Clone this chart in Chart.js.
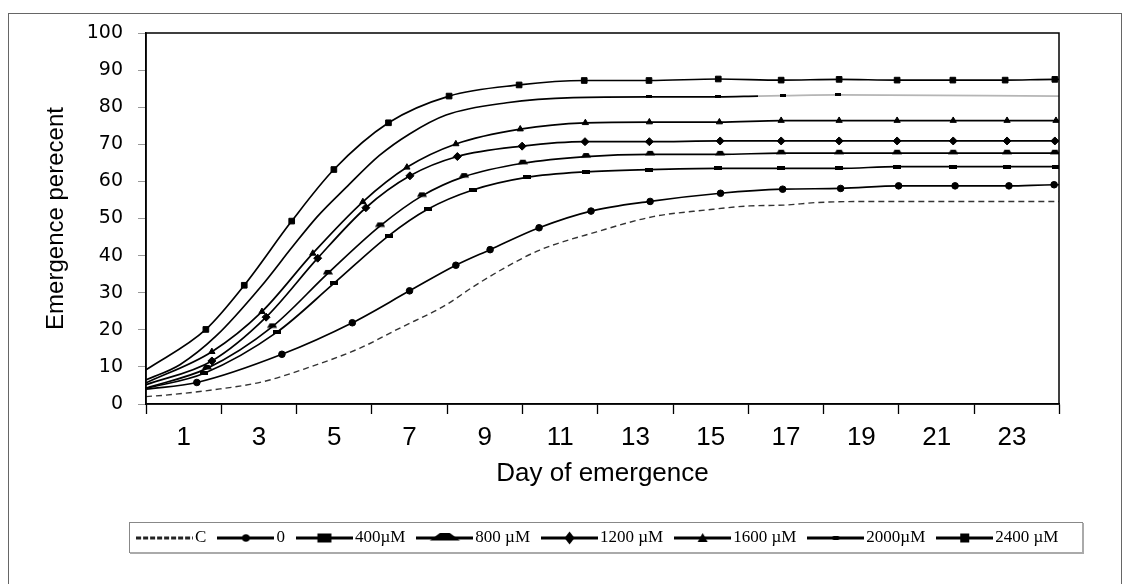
<!DOCTYPE html>
<html>
<head>
<meta charset="utf-8">
<script src="https://cdn.jsdelivr.net/npm/chart.js@4.4.1/dist/chart.umd.min.js"></script>
<style>
    html, body { margin: 0; padding: 0; background: #fff; }
    #wrap { width: 1130px; height: 584px; }
</style>
</head>
<body>
<div id="wrap"><canvas id="emergenceChart" width="1130" height="584"></canvas></div>
<script>
/* ================= DATA ================= */

const seriesNames = ["C", "0", "400µM", "800 µM", "1200 µM", "1600 µM", "2000µM", "2400 µM"];

const dayC = [0, 0.53, 1.77, 3.10, 4.25, 5.67, 6.73, 7.97, 8.69, 9.58, 10.46, 11.97, 13.47, 14.89, 16.04, 16.93, 17.81, 19.32, 24.25];
const pctC = [2.0, 2.4, 3.8, 6.0, 9.6, 15.0, 20.4, 26.7, 31.6, 37.0, 41.5, 46.4, 50.5, 52.3, 53.4, 53.6, 54.3, 54.6, 54.6];

const day0 = [0, 1.35, 3.61, 5.48, 7.00, 8.23, 9.14, 10.44, 11.82, 13.39, 15.26, 16.91, 18.45, 19.99, 21.49, 22.92, 24.12, 24.25];
const pct0 = [4.0, 5.8, 13.4, 21.9, 30.5, 37.4, 41.6, 47.5, 52.0, 54.6, 56.8, 57.9, 58.1, 58.8, 58.8, 58.8, 59.1, 59.1];

const day400 = [0, 1.55, 3.47, 4.99, 6.45, 7.48, 8.68, 10.11, 11.69, 13.36, 15.20, 16.87, 18.41, 19.95, 21.44, 22.87, 24.17, 24.25];
const pct400 = [4.2, 8.3, 19.3, 32.5, 45.4, 52.5, 57.7, 61.1, 62.6, 63.2, 63.5, 63.5, 63.5, 64.0, 64.0, 64.0, 64.0, 64.0];

const day800 = [0, 1.62, 3.35, 4.83, 6.22, 7.33, 8.45, 10.01, 11.69, 13.39, 15.25, 16.87, 18.41, 19.95, 21.44, 22.87, 24.14, 24.25];
const pct800 = [4.3, 9.6, 20.8, 35.2, 48.0, 56.1, 61.3, 64.9, 66.7, 67.3, 67.3, 67.6, 67.6, 67.6, 67.6, 67.6, 67.6, 67.6];

const day1200 = [0, 1.75, 3.19, 4.56, 5.84, 7.01, 8.27, 9.99, 11.66, 13.37, 15.25, 16.87, 18.41, 19.95, 21.44, 22.87, 24.14, 24.25];
const pct1200 = [5.2, 11.6, 23.4, 39.3, 52.9, 61.5, 66.7, 69.5, 70.7, 70.7, 70.9, 70.9, 70.9, 70.9, 70.9, 70.9, 70.9, 70.9];

const day1600 = [0, 1.75, 3.08, 4.43, 5.76, 6.93, 8.23, 9.94, 11.67, 13.37, 15.23, 16.87, 18.41, 19.95, 21.44, 22.87, 24.17, 24.25];
const pct1600 = [5.7, 14.1, 24.9, 40.6, 54.5, 63.8, 70.1, 74.1, 75.8, 76.0, 76.0, 76.4, 76.4, 76.4, 76.4, 76.4, 76.4, 76.4];

const day2000 = [0, 0.9, 1.87, 3.05, 3.9, 4.55, 5.31, 6.2, 7.0, 7.97, 9.58, 11.35, 13.36, 15.2, 16.26, 16.91, 18.39, 24.25];
const pct2000 = [6.5, 10.6, 18.4, 31.6, 42.5, 50.5, 58.3, 67.0, 72.8, 77.9, 81.2, 82.6, 82.8, 82.8, 83.0, 83.1, 83.3, 83.0];
const mark2000 = [13.36, 15.2, 16.91, 18.39];

const day2400 = [0, 1.59, 2.61, 3.87, 4.99, 6.44, 8.05, 9.91, 11.64, 13.36, 15.20, 16.87, 18.41, 19.95, 21.43, 22.82, 24.14, 24.25];
const pct2400 = [9.2, 20.1, 32.0, 49.3, 63.2, 75.8, 83.0, 86.0, 87.2, 87.2, 87.6, 87.3, 87.5, 87.3, 87.3, 87.3, 87.5, 87.5];

const xMax = 24.25;

/* ================= MARKERS ================= */

function makeCanvas(w, h, draw) {
    const c = document.createElement("canvas");
    c.width = w;
    c.height = h;
    const g = c.getContext("2d");
    g.fillStyle = "#000";
    g.strokeStyle = "#000";
    draw(g, w, h);
    return c;
}

const rect400 = makeCanvas(8, 4, g => g.fillRect(0, 0, 8, 4));
const hat800 = makeCanvas(10, 9, g => {
    g.beginPath();
    g.moveTo(0, 5.5); g.lineTo(2.5, 1); g.lineTo(7.5, 1); g.lineTo(10, 5.5);
    g.closePath(); g.fill();
});
const dash2000 = makeCanvas(6, 3, g => g.fillRect(0, 0, 6, 3));

function legendIcon(mark, dashed) {
    return makeCanvas(57, 16, (g, w) => {
        const cx = w / 2, cy = 8;
        g.lineWidth = 3;
        if (dashed) g.setLineDash([5, 2]);
        g.strokeStyle = dashed ? "#222" : "#000";
        g.beginPath(); g.moveTo(0, cy); g.lineTo(w, cy); g.stroke();
        g.setLineDash([]);
        if (mark) { g.beginPath(); mark(g, cx, cy); g.fill(); }
    });
}

const legendIcons = [
    legendIcon(null, true),
    legendIcon((g, x, y) => g.arc(x, y, 3.8, 0, Math.PI * 2)),
    legendIcon((g, x, y) => g.rect(x - 7, y - 4.5, 14, 9)),
    legendIcon((g, x, y) => { g.moveTo(x - 15, y + 2.5); g.lineTo(x - 5, y - 5); g.lineTo(x + 5, y - 5); g.lineTo(x + 15, y + 2.5); }),
    legendIcon((g, x, y) => { g.moveTo(x, y - 6.5); g.lineTo(x + 5, y); g.lineTo(x, y + 6.5); g.lineTo(x - 5, y); }),
    legendIcon((g, x, y) => { g.moveTo(x, y - 5); g.lineTo(x + 5, y + 4); g.lineTo(x - 5, y + 4); }),
    legendIcon((g, x, y) => g.rect(x - 3, y - 2, 6, 4)),
    legendIcon((g, x, y) => g.rect(x - 4.5, y - 4.5, 9, 9))
];

/* ================= DATASETS ================= */

const allDays = [dayC, day0, day400, day800, day1200, day1600, day2000, day2400];
const allPcts = [pctC, pct0, pct400, pct800, pct1200, pct1600, pct2000, pct2400];
const markStyles = [false, "circle", rect400, hat800, "rectRot", "triangle", dash2000, "rect"];
const markSizes = [0, 3.3, 3, 3, 4, 3.6, 3, 4];

function hasMark(i, j) {
    if (!markStyles[i]) return false;
    if (i === 6) return mark2000.includes(allDays[i][j]);
    return j > 0 && j < allDays[i].length - 1;
}

const datasets = seriesNames.map((name, i) => ({
    label: name,
    data: allDays[i].map((d, j) => ({ x: d, y: allPcts[i][j] })),
    borderColor: i === 0 ? "#333" : "#000",
    borderWidth: i === 0 ? 1.4 : 1.7,
    borderDash: i === 0 ? [6, 4] : [],
    cubicInterpolationMode: "monotone",
    pointStyle: markStyles[i] || "circle",
    pointRadius: allDays[i].map((d, j) => hasMark(i, j) ? markSizes[i] : 0),
    pointBackgroundColor: "#000",
    pointBorderColor: "#000",
    pointBorderWidth: 1,
    segment: i === 6 ? { borderColor: c => c.p0.parsed.x >= 16.2 ? "#b5b5b5" : "#000" } : undefined,
    fill: false
}));

/* ================= FRAME PLUGIN ================= */

// legend row sits a little right of the canvas centre
const legendShift = 71;

const framePlugin = {
    id: "frame",
    afterLayout(chart) {
        chart.legend.left += legendShift;
        chart.legend.right += legendShift;
    },
    beforeDraw(chart) {
        const ctx = chart.ctx;
        ctx.save();
        ctx.fillStyle = "#fff";
        ctx.fillRect(0, 0, chart.width, chart.height);
        ctx.strokeStyle = "#666";
        ctx.lineWidth = 1;
        ctx.strokeRect(8.5, 13.5, 1113, 620);
        ctx.restore();
    },
    afterDraw(chart) {
        const ctx = chart.ctx;
        const a = chart.chartArea;
        ctx.save();
        ctx.strokeStyle = "#000";
        ctx.lineWidth = 1.5;
        ctx.strokeRect(a.left, a.top, a.right - a.left, a.bottom - a.top);

        const lg = chart.legend;
        const lab = lg.options.labels;
        const start = (lg.left + lab.padding + lg.right - lg.lineWidths[0]) / 2;
        const left = Math.round(start + lab.pointStyleWidth / 2 - 28.5 - 7);
        const right = Math.round(start + lg.lineWidths[0] - lab.padding + 24);
        const top = Math.round(lg.top + lab.padding + lab.font.size / 2 - 16);
        ctx.strokeStyle = "#888";
        ctx.lineWidth = 1;
        ctx.strokeRect(left + 0.5, top + 0.5, right - left, 30);
        ctx.strokeStyle = "#aaa";
        ctx.lineWidth = 2;
        ctx.beginPath();
        ctx.moveTo(left + 1, top + 31);
        ctx.lineTo(right + 1, top + 31);
        ctx.lineTo(right + 1, top + 1);
        ctx.stroke();
        ctx.restore();
    }
};

/* ================= CHART ================= */

new Chart(document.getElementById("emergenceChart"), {
    type: "line",
    data: { datasets },
    plugins: [framePlugin],
    options: {
        responsive: false,
        animation: false,
        devicePixelRatio: 1,
        layout: { padding: { left: 0, right: 71, top: 33, bottom: 27.5 } },
        plugins: {
            tooltip: { enabled: false },
            legend: {
                position: "bottom",
                labels: {
                    usePointStyle: true,
                    pointStyleWidth: 44,
                    padding: 17.5,
                    color: "#000",
                    font: { family: "Liberation Serif", size: 17 },
                    generateLabels: () => seriesNames.map((name, i) => ({
                        text: name,
                        pointStyle: legendIcons[i],
                        datasetIndex: i,
                        fillStyle: "#000",
                        strokeStyle: "#000",
                        lineWidth: 0,
                        hidden: false
                    }))
                },
                onClick: () => {}
            }
        },
        scales: {
            x: {
                type: "linear",
                min: 0,
                max: xMax,
                ticks: {
                    stepSize: 1,
                    autoSkip: false,
                    maxRotation: 0,
                    padding: 8,
                    color: "#000",
                    font: { family: "Liberation Sans", size: 26 },
                    callback: v => (v % 2 === 1 ? String(v) : "")
                },
                grid: {
                    drawOnChartArea: false,
                    tickLength: 10,
                    tickWidth: 1.3,
                    color: c => (c.tick && (c.tick.value === xMax || (c.tick.value % 2 === 0 && c.tick.value < 24))) ? "#000" : "rgba(0,0,0,0)"
                },
                border: { color: "#000", width: 1.5 },
                title: {
                    display: true,
                    text: "Day of emergence",
                    color: "#000",
                    font: { family: "Liberation Sans", size: 26 },
                    padding: { top: 4, bottom: 23 }
                },
                afterFit: s => { s.height = 108; }
            },
            y: {
                min: 0,
                max: 100,
                ticks: {
                    stepSize: 10,
                    padding: 15,
                    color: "#000",
                    font: { family: "DejaVu Sans", size: 19 }
                },
                grid: {
                    drawOnChartArea: false,
                    tickLength: 8,
                    color: "#999"
                },
                border: { color: "#000", width: 1.5 },
                title: {
                    display: true,
                    text: "Emergence perecent",
                    color: "#000",
                    font: { family: "Liberation Sans", size: 24 },
                    padding: { top: 42, bottom: 0 }
                },
                afterFit: s => { s.width = 146; }
            }
        }
    }
});
</script>
</body>
</html>
